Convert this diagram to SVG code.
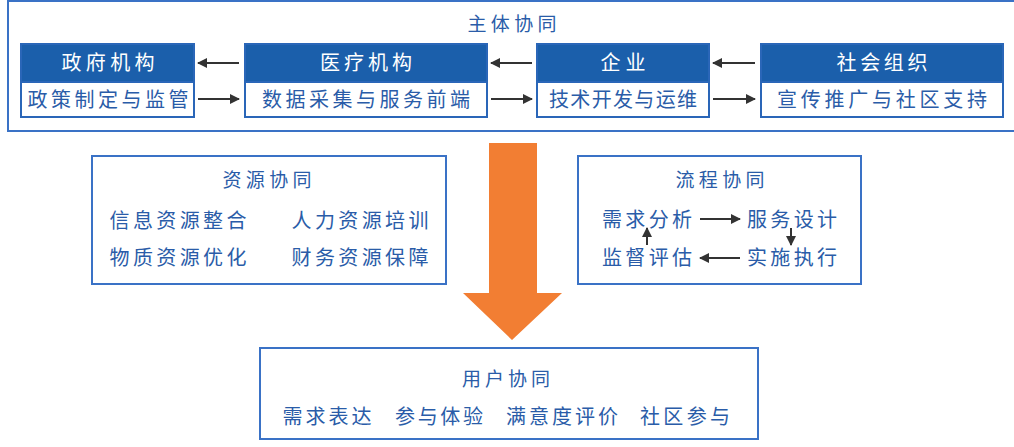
<svg xmlns="http://www.w3.org/2000/svg" width="1014" height="447" viewBox="0 0 1014 447">
<defs>
<marker id="ah" viewBox="0 0 10 10" refX="9" refY="5" markerWidth="5" markerHeight="5" orient="auto" markerUnits="strokeWidth">
<path d="M0,0 L10,5 L0,10 z" fill="#333"/>
</marker>
<style>
text{font-family:"Noto Sans CJK SC","Noto Sans",sans-serif;}
.box{fill:#fff;stroke:#3a72c6;stroke-width:2;}
.hdr{fill:#1b5fab;stroke:#2a66b8;stroke-width:2;}
.body{fill:#fff;stroke:#2a66b8;stroke-width:2;}
.ht{fill:#fff;font-size:20px;text-anchor:middle;}
.bt{fill:#2a5ca8;font-size:20px;text-anchor:middle;}
.tt{fill:#2a5ca8;font-size:19px;text-anchor:middle;}
.ln{stroke:#333;stroke-width:2;fill:none;marker-end:url(#ah);}
</style>
</defs>
<rect width="1014" height="447" fill="#fff"/>
<g id="main">
<rect class="box" x="8" y="1" width="1010" height="130"/>
<text class="tt" x="512" y="31" textLength="89" lengthAdjust="spacing">主体协同</text>
</g>
<g id="gov">
<rect class="hdr" x="21" y="44" width="173" height="38"/>
<rect class="body" x="21" y="82" width="173" height="35"/>
<text class="ht" x="108" y="70" textLength="93" lengthAdjust="spacing">政府机构</text>
<text class="bt" x="108" y="107" textLength="161" lengthAdjust="spacing">政策制定与监管</text>
</g>
<g id="med">
<rect class="hdr" x="245" y="44" width="242" height="38"/>
<rect class="body" x="245" y="82" width="242" height="35"/>
<text class="ht" x="366" y="70" textLength="92" lengthAdjust="spacing">医疗机构</text>
<text class="bt" x="366" y="107" textLength="208" lengthAdjust="spacing">数据采集与服务前端</text>
</g>
<g id="ent">
<rect class="hdr" x="537" y="44" width="172" height="38"/>
<rect class="body" x="537" y="82" width="172" height="35"/>
<text class="ht" x="623" y="70" textLength="45" lengthAdjust="spacing">企业</text>
<text class="bt" x="623" y="107" textLength="148" lengthAdjust="spacing">技术开发与运维</text>
</g>
<g id="soc">
<rect class="hdr" x="761" y="44" width="242" height="38"/>
<rect class="body" x="761" y="82" width="242" height="35"/>
<text class="ht" x="882" y="70" textLength="91" lengthAdjust="spacing">社会组织</text>
<text class="bt" x="882" y="107" textLength="210" lengthAdjust="spacing">宣传推广与社区支持</text>
</g>
<g id="resource">
<rect class="box" x="92" y="156" width="354" height="128"/>
<text class="tt" x="267" y="187" textLength="89" lengthAdjust="spacing">资源协同</text>
<text class="bt" x="178" y="228" textLength="137" lengthAdjust="spacing">信息资源整合</text>
<text class="bt" x="360" y="228" textLength="137" lengthAdjust="spacing">人力资源培训</text>
<text class="bt" x="178" y="265" textLength="137" lengthAdjust="spacing">物质资源优化</text>
<text class="bt" x="360" y="265" textLength="137" lengthAdjust="spacing">财务资源保障</text>
</g>
<g id="process">
<rect class="box" x="578" y="156" width="283" height="128"/>
<text class="tt" x="720" y="187" textLength="89" lengthAdjust="spacing">流程协同</text>
<text class="bt" x="647" y="227" textLength="90" lengthAdjust="spacing">需求分析</text>
<text class="bt" x="792" y="227" textLength="90" lengthAdjust="spacing">服务设计</text>
<text class="bt" x="647" y="265" textLength="90" lengthAdjust="spacing">监督评估</text>
<text class="bt" x="792" y="265" textLength="90" lengthAdjust="spacing">实施执行</text>
</g>
<g id="user">
<rect class="box" x="260" y="348" width="498" height="91"/>
<text class="tt" x="506" y="386" textLength="88" lengthAdjust="spacing">用户协同</text>
<text class="bt" x="327" y="424" textLength="89" lengthAdjust="spacing">需求表达</text>
<text class="bt" x="439" y="424" textLength="88" lengthAdjust="spacing">参与体验</text>
<text class="bt" x="562" y="424" textLength="112" lengthAdjust="spacing">满意度评价</text>
<text class="bt" x="685" y="424" textLength="90" lengthAdjust="spacing">社区参与</text>
</g>
<g id="flow">
<polygon points="489,143 537,143 537,293 562,293 512,340 463,293 489,293" fill="#f27e33"/>
</g>
<g id="connectors">
<line class="ln" x1="239" y1="63" x2="198" y2="63"/>
<line class="ln" x1="198" y1="99" x2="239" y2="99"/>
<line class="ln" x1="532" y1="63" x2="491" y2="63"/>
<line class="ln" x1="491" y1="99" x2="532" y2="99"/>
<line class="ln" x1="755" y1="63" x2="713" y2="63"/>
<line class="ln" x1="713" y1="99" x2="755" y2="99"/>
<line class="ln" x1="700" y1="219" x2="740" y2="219"/>
<line class="ln" x1="740" y1="258" x2="700" y2="258"/>
<line class="ln" x1="647" y1="245" x2="647" y2="228"/>
<line class="ln" x1="791" y1="228" x2="791" y2="245"/>
</g>
</svg>
